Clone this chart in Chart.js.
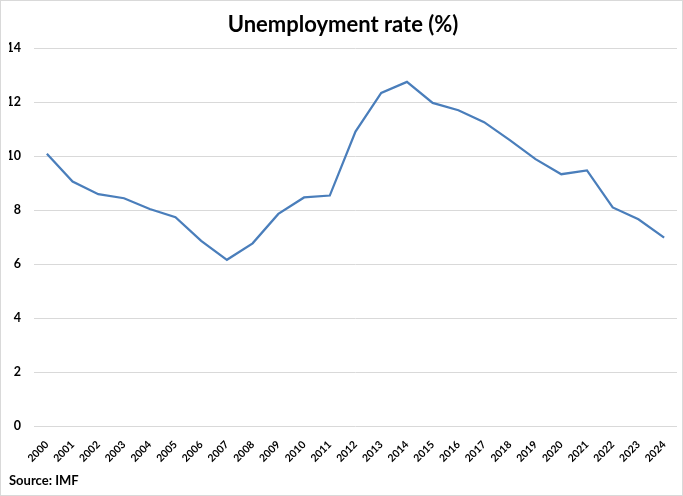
<!DOCTYPE html>
<html>
<head>
<meta charset="utf-8">
<script src="https://cdn.jsdelivr.net/npm/chart.js@4"></script>
<style>
  html, body { margin: 0; padding: 0; background: #fff; }
  #wrap { width: 683px; height: 496px; box-sizing: border-box; border: 1px solid #d9d9d9; }
  canvas { display: block; }
</style>
</head>
<body>
<div id="wrap"><canvas id="chart" width="681" height="494"></canvas></div>
<script>
const years = ['2000', '2001', '2002', '2003', '2004', '2005', '2006', '2007', '2008', '2009',
    '2010', '2011', '2012', '2013', '2014', '2015', '2016', '2017', '2018', '2019',
    '2020', '2021', '2022', '2023', '2024'];
const unemployment = [10.1, 9.07, 8.6, 8.45, 8.05, 7.75, 6.87, 6.17, 6.78, 7.87,
    8.48, 8.55, 10.92, 12.35, 12.76, 11.98, 11.71, 11.27, 10.6, 9.9,
    9.34, 9.48, 8.11, 7.67, 6.99];
const yTicks = [0, 2, 4, 6, 8, 10, 12, 14];

const fontFamily = 'Lato, "Open Sans", sans-serif';

document.addEventListener('DOMContentLoaded', function() {
    const ctx = document.getElementById('chart').getContext('2d');

    new Chart(ctx, {
        type: 'line',
        data: {
            labels: years,
            datasets: [{
                label: 'Unemployment rate (%)',
                data: unemployment,
                borderColor: '#4a7ebb',
                borderWidth: 2.25,
                pointRadius: 0,
                tension: 0,
                fill: false
            }]
        },
        options: {
            responsive: false,
            animation: false,
            layout: {
                padding: { left: 8, right: 5, top: 0, bottom: 0 }
            },
            plugins: {
                legend: { display: false },
                tooltip: { enabled: false },
                title: {
                    display: true,
                    text: 'Unemployment rate (%)',
                    color: '#000',
                    font: { family: fontFamily, size: 22, weight: 'bold' },
                    padding: { top: 11, bottom: 10 }
                },
                subtitle: {
                    display: true,
                    text: 'Source: IMF',
                    position: 'bottom',
                    align: 'start',
                    color: '#000',
                    font: { family: fontFamily, size: 13, weight: 'bold' },
                    padding: { top: 4, bottom: 6 }
                }
            },
            scales: {
                x: {
                    offset: true,
                    grid: { display: false },
                    border: { display: false },
                    afterFit: function(axis) {
                        axis.height = 43;
                        axis.paddingLeft = 0;
                    },
                    ticks: {
                        color: '#000',
                        font: { family: fontFamily, size: 10.5, weight: 'bold' },
                        minRotation: 45,
                        maxRotation: 45,
                        autoSkip: false,
                        padding: 4
                    }
                },
                y: {
                    min: yTicks[0],
                    max: yTicks[yTicks.length - 1],
                    afterBuildTicks: function(axis) {
                        axis.ticks = yTicks.map(v => ({ value: v }));
                    },
                    afterFit: function(axis) {
                        axis.width = 25;
                    },
                    grid: {
                        color: '#d9d9d9',
                        lineWidth: 1,
                        drawTicks: false
                    },
                    border: { display: false },
                    ticks: {
                        color: '#000',
                        font: { family: fontFamily, size: 12.5, weight: 'bold' },
                        padding: 13
                    }
                }
            }
        }
    });
});
</script>
</body>
</html>
